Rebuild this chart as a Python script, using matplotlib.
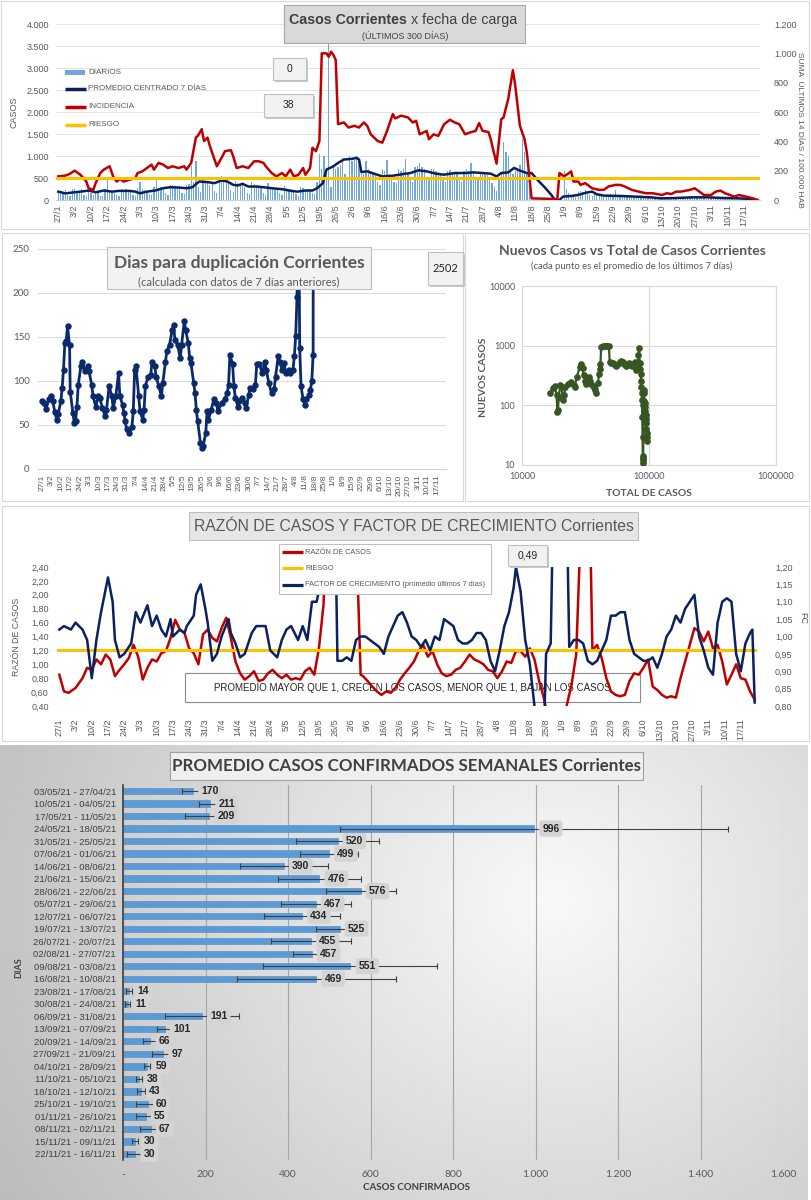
import numpy as np
import matplotlib
matplotlib.use("Agg")
import matplotlib.pyplot as plt
from matplotlib.patches import Rectangle
from matplotlib.lines import Line2D
from matplotlib.ticker import FuncFormatter, NullLocator

plt.rcParams['font.family'] = ['Liberation Sans Narrow', 'Liberation Sans', 'DejaVu Sans']
CAL = ['Lato', 'Liberation Sans', 'DejaVu Sans']
GRAY = '#595959'

# ------------------------------------------------------------------ data
fechas = ['27/1', '3/2', '10/2', '17/2', '24/2', '3/3', '10/3', '17/3', '24/3', '31/3', '7/4', '14/4',
          '21/4', '28/4', '5/5', '12/5', '19/5', '26/5', '2/6', '9/6', '16/6', '23/6', '30/6', '7/7',
          '14/7', '21/7', '28/7', '4/8', '11/8', '18/8', '25/8', '1/9', '8/9', '15/9', '22/9', '29/9',
          '6/10', '13/10', '20/10', '27/10', '3/11', '10/11', '17/11']

diarios = [
    180, 210, 150, 230, 120, 90, 260,
    240, 200, 170, 260, 110, 90, 230,
    150, 120, 210, 180, 100, 80, 260,
    460, 230, 200, 170, 110, 90, 240,
    220, 250, 180, 230, 120, 100, 280,
    400, 260, 230, 200, 140, 110, 290,
    500, 280, 300, 260, 150, 120, 330,
    330, 320, 290, 310, 160, 130, 350,
    360, 770, 420, 880, 300, 180, 450,
    420, 380, 350, 400, 200, 160, 460,
    550, 480, 450, 420, 230, 180, 430,
    380, 350, 330, 300, 170, 140, 420,
    360, 330, 300, 290, 160, 120, 380,
    300, 280, 270, 250, 150, 110, 320,
    280, 260, 230, 220, 130, 100, 300,
    270, 250, 260, 240, 160, 130, 420,
    1040, 700, 1000, 650, 3600, 300, 800,
    700, 750, 800, 950, 600, 500, 1000,
    880, 900, 1000, 900, 700, 600, 880,
    700, 650, 600, 620, 400, 350, 700,
    650, 900, 600, 550, 400, 380, 700,
    650, 700, 930, 600, 450, 400, 750,
    780, 850, 750, 700, 500, 450, 700,
    700, 650, 640, 600, 450, 400, 650,
    680, 640, 600, 620, 480, 420, 660,
    700, 650, 830, 620, 480, 450, 640,
    620, 600, 560, 520, 380, 300, 200,
    500, 600, 1320, 1100, 1000, 700, 600,
    650, 700, 800, 1380, 1100, 600, 300,
    0, 0, 0, 0, 0, 0, 0,
    0, 0, 0, 0, 0, 0, 0,
    650, 250, 150, 120, 80, 60, 180,
    200, 180, 220, 170, 120, 100, 190,
    140, 120, 110, 100, 80, 60, 130,
    110, 230, 100, 95, 70, 60, 120,
    100, 90, 85, 80, 50, 40, 90,
    70, 60, 55, 50, 30, 25, 60,
    50, 45, 40, 45, 25, 20, 55,
    60, 55, 50, 70, 40, 35, 70,
    75, 65, 60, 55, 40, 30, 70,
    70, 60, 65, 55, 35, 30, 60,
    45, 40, 35, 40, 25, 20, 40,
    35, 30, 40, 30, 20, 15, 0]

prom_pts = [(0, 190), (3, 150), (6, 170), (9.5, 190), (13, 215), (16, 176), (19.5, 215), (23, 190),
            (26, 207), (30.5, 207), (33, 190), (35, 153), (38, 190), (41.5, 215), (45, 268), (48, 290),
            (51.5, 283), (55, 268), (57.5, 290), (59, 360), (60.5, 420), (64, 406), (67, 383), (70, 444),
            (72.5, 420), (75, 345), (77, 330), (79, 368), (81.5, 306), (85, 306), (88, 290), (91.5, 268),
            (96, 245), (99, 215), (102.5, 190), (106, 215), (109, 215), (111, 268), (113.5, 383),
            (115, 690), (118, 766), (120, 843), (122.5, 920), (126, 935), (128, 958), (129, 920),
            (130, 636), (132.5, 651), (135.5, 598), (139, 536), (143.5, 552), (148, 590), (151, 613),
            (154.5, 674), (158, 651), (162, 598), (165.5, 575), (170, 613), (174.5, 613), (178, 628),
            (182, 613), (185.5, 598), (188, 536), (190, 613), (193, 628), (195.5, 728), (198, 667),
            (201, 613), (203, 613), (205.5, 460), (209, 268), (211.5, 115), (213, 0), (215, 0),
            (216.5, 77), (220, 92), (223, 115), (226.5, 169), (229, 190), (231, 130), (234, 100),
            (241, 92), (247.5, 77), (254, 61), (258.5, 38), (265, 46), (272, 61), (278.5, 61),
            (285, 46), (292, 38), (298.5, 15)]

inc_pts = [(0, 161), (3, 166), (5, 179), (7, 200), (9.5, 172), (12, 126), (13, 80), (15, 69), (16, 115),
           (18, 184), (19.5, 207), (22, 230), (23.5, 161), (25, 126), (26.5, 143), (28, 126), (30.5, 138),
           (33, 149), (34, 184), (36, 195), (38, 218), (40, 241), (41, 207), (43, 253), (45, 241),
           (47, 218), (49, 230), (51.5, 218), (54, 230), (55, 207), (57, 253), (59, 425), (60, 441),
           (61.5, 483), (62.5, 402), (64, 425), (65, 368), (67, 276), (68, 230), (70, 287), (71.5, 333),
           (74, 340), (75, 299), (76.5, 218), (79, 230), (81.5, 218), (84, 264), (86, 264), (88, 253),
           (89, 230), (91.5, 184), (93.5, 161), (96, 184), (97.5, 161), (99.5, 207), (101, 161),
           (103, 172), (105, 218), (106, 172), (108, 218), (109, 356), (110.5, 333), (112, 402),
           (113, 1000), (115, 1000), (116, 977), (117, 1011), (118, 989), (119, 954), (120, 517),
           (122.5, 529), (124.5, 494), (127, 506), (129, 494), (131, 529), (132.5, 506), (134, 448),
           (137, 402), (139, 391), (141, 471), (143.5, 586), (144.5, 556), (147, 575), (150, 563),
           (152, 529), (153.5, 540), (155, 448), (158, 471), (159, 414), (161, 448), (163, 437),
           (165.5, 517), (168, 547), (170, 529), (172, 517), (174.5, 448), (176.5, 460), (179, 471),
           (180.5, 524), (182, 471), (184.5, 464), (185.5, 414), (186.5, 345), (188, 248), (190, 550),
           (191, 563), (193, 690), (195, 885), (196, 780), (198, 506), (200, 414), (201, 322), (203, 11),
           (213, 7), (214, 0), (215, 184), (217, 161), (219, 184), (220, 195), (221, 126), (223, 126),
           (224, 103), (226, 115), (229, 80), (232, 69), (234, 69), (236, 92), (239, 103), (241, 103),
           (243, 92), (246, 69), (249, 57), (252, 46), (255, 46), (259, 34), (261, 46), (263, 41),
           (265, 57), (267, 57), (271, 69), (273, 80), (275, 57), (277, 34), (280, 34), (282, 57),
           (284, 64), (286, 46), (290, 23), (292, 34), (295, 23), (298, 11), (300, 0)]
riesgo_inc = 150

dup_pts = [(0, 77), (1.5, 75), (3, 68), (5, 79), (7, 83), (8, 77), (9.5, 65), (11, 56), (12, 62), (14, 77),
           (15, 92), (16, 113), (17, 143), (18, 145), (19, 162), (20.5, 141), (21, 88), (23, 64), (24, 52),
           (25, 54), (26, 71), (27, 96), (29, 117), (30, 122), (32, 111), (34, 117), (35, 111), (37, 96),
           (38, 83), (40, 71), (42, 83), (43, 81), (45, 69), (47, 60), (48, 67), (50, 94), (52, 83),
           (53, 69), (55, 83), (57, 109), (58, 83), (60, 73), (61, 64), (62, 54), (63, 45), (65, 41),
           (67, 48), (68, 66), (69, 113), (70, 117), (72, 83), (73, 66), (75, 56), (76, 67), (77, 94),
           (79, 105), (81, 107), (82, 122), (84, 117), (85, 105), (87, 94), (89, 83), (90, 98), (92, 122),
           (93, 134), (95, 141), (97, 158), (98, 164), (99, 147), (101, 141), (103, 126), (104, 141),
           (106, 168), (107, 158), (109, 143), (110, 126), (111, 120), (113, 98), (114, 86), (115, 67),
           (116, 54), (118, 30), (119, 24), (120, 26), (122, 41), (123, 66), (124, 56), (126, 67),
           (128, 79), (130, 75), (131, 66), (134, 75), (136, 79), (138, 86), (139, 96), (140, 130),
           (142, 119), (143, 94), (144, 81), (146, 71), (147, 77), (149, 81), (151, 75), (152, 69),
           (154, 84), (155, 92), (157, 91), (159, 96), (160, 119), (162, 119), (164, 109), (166, 122),
           (167, 113), (169, 98), (171, 86), (173, 91), (174, 105), (176, 128), (177, 122), (179, 113),
           (180, 120), (182, 109), (184, 113), (185, 109), (187, 113), (188, 128), (189, 151), (190, 196),
           (190.8, 400), (192, 137), (193, 94), (194.5, 79), (196, 73), (197, 79), (199, 84), (200, 90),
           (201, 100), (202, 130), (203, 2502)]

scatter_pts = [(16500, 158), (17500, 193), (18100, 210), (18700, 150), (19000, 78), (19200, 85),
               (19500, 140), (20000, 220), (20500, 200), (21000, 123), (21500, 150), (22000, 205),
               (23000, 230), (24000, 240), (24500, 250), (25500, 220), (26000, 205), (27000, 300),
               (28500, 440), (29300, 500), (30000, 420), (30500, 320), (31500, 260), (32000, 230),
               (33000, 270), (33700, 300), (34500, 260), (35000, 230), (36000, 210), (36700, 205),
               (37500, 180), (38500, 160), (39600, 235), (40500, 340), (41000, 400), (41500, 500),
               (42000, 960), (43500, 990), (44700, 1000), (46000, 990), (46900, 1000), (48300, 1000),
               (49000, 540), (50500, 520), (52000, 510), (53500, 480), (55000, 450), (57000, 500),
               (58700, 540), (60500, 560), (62300, 540), (64000, 500), (66000, 450), (68000, 480),
               (70000, 510), (72000, 480), (74000, 450), (75500, 500), (77000, 540), (79000, 390),
               (80500, 450), (81500, 510), (82500, 700), (83500, 900), (84500, 510), (85500, 400),
               (86000, 340), (86500, 260), (87000, 205), (87500, 160), (88000, 123), (88500, 64),
               (89000, 30), (89300, 14), (89500, 12), (89600, 11), (90000, 13), (90500, 100),
               (91000, 180), (91500, 160), (92000, 120), (92500, 110), (93000, 95), (93500, 80),
               (94000, 70), (94500, 60), (95000, 50), (95500, 40), (96000, 35), (96300, 30), (96500, 25)]

raz_pts = [(0, 0.85), (2, 0.61), (4, 0.59), (7, 0.66), (10, 0.80), (12, 0.95), (14, 0.92), (16, 1.07),
           (18, 1.00), (20, 1.14), (22, 1.07), (24, 0.83), (26, 0.92), (28, 1.00), (30, 1.09), (32, 1.28),
           (34, 1.11), (36, 0.78), (38, 0.95), (40, 1.07), (42, 1.04), (44, 1.16), (46, 1.19), (48, 1.38),
           (50, 1.64), (52, 1.50), (54, 1.45), (56, 1.23), (58, 1.16), (60, 1.00), (62, 1.43), (64, 1.50),
           (66, 1.38), (68, 1.33), (70, 1.52), (72, 1.67), (74, 1.38), (76, 1.04), (78, 0.87), (80, 0.78),
           (82, 0.83), (84, 0.90), (86, 0.76), (88, 0.78), (90, 0.87), (92, 0.92), (94, 0.85), (96, 0.80),
           (98, 0.85), (100, 0.78), (102, 0.80), (104, 0.78), (106, 0.90), (108, 0.95), (110, 0.85),
           (112, 1.23), (114, 1.86), (115, 3.0), (128, 3.0), (130, 0.85), (131, 0.83), (133, 0.76),
           (135, 0.68), (137, 0.61), (139, 0.56), (141, 0.61), (143, 0.59), (145, 0.66), (147, 0.78),
           (149, 0.87), (151, 0.95), (153, 1.04), (155, 1.19), (157, 1.28), (159, 1.11), (161, 1.19),
           (163, 1.00), (165, 0.87), (167, 0.83), (169, 0.85), (171, 0.92), (173, 0.95), (175, 1.04),
           (177, 1.14), (179, 1.07), (181, 1.04), (183, 1.00), (185, 0.92), (187, 0.90), (189, 0.80),
           (191, 0.90), (193, 1.04), (195, 1.02), (197, 1.19), (199, 1.19), (201, 1.11), (203, 1.23),
           (205, 1.07), (207, 0.76), (209, 0.52), (211, 0.2), (218, 0.2), (219, 0.42), (221, 0.71),
           (223, 1.14), (225, 3.0), (229, 3.0), (230, 1.20), (232, 1.28), (234, 1.09), (236, 0.80),
           (238, 0.61), (240, 0.56), (242, 0.54), (244, 0.56), (246, 0.76), (248, 0.87), (250, 0.85),
           (252, 0.95), (254, 1.07), (256, 0.68), (258, 0.63), (260, 0.56), (262, 0.52), (264, 0.54),
           (266, 0.52), (268, 0.80), (270, 1.04), (272, 1.28), (274, 1.52), (276, 1.47), (278, 1.33),
           (280, 1.47), (282, 1.23), (284, 1.28), (286, 1.04), (288, 0.71), (290, 0.85), (292, 1.00),
           (294, 0.80), (296, 0.78), (298, 0.61), (300, 0.49)]
riesgo_raz = 1.2

fc_pts = [(0, 1.02), (2, 1.03), (5, 1.02), (7, 1.04), (10, 1.02), (12, 0.99), (14, 0.88), (16, 0.99),
          (18, 1.07), (21, 1.17), (23, 1.10), (24, 0.99), (26, 0.94), (28, 0.95), (31, 0.98), (33, 1.07),
          (35, 1.04), (38, 1.09), (40, 1.03), (42, 1.06), (44, 1.02), (46, 1.00), (48, 1.05), (49, 1.00),
          (52, 1.02), (54, 1.01), (55, 1.03), (58, 1.06), (59, 1.12), (61, 1.15), (63, 1.08), (64, 1.04),
          (66, 0.93), (68, 0.95), (70, 1.00), (73, 1.05), (74, 1.01), (76, 0.98), (78, 0.94), (80, 0.95),
          (83, 1.01), (85, 1.03), (87, 1.03), (89, 1.03), (91, 0.96), (94, 0.94), (96, 0.99), (98, 1.02),
          (100, 1.03), (103, 0.99), (105, 1.03), (107, 0.99), (109, 1.10), (111, 1.10), (112, 1.13),
          (114, 1.16), (115, 1.35), (119, 1.35), (120, 0.93), (122, 0.93), (124, 0.94), (126, 0.93),
          (128, 0.99), (130, 1.00), (132, 1.00), (134, 0.99), (136, 0.98), (138, 0.97), (140, 0.95),
          (142, 1.00), (144, 1.03), (146, 1.06), (148, 1.07), (150, 1.04), (152, 1.00), (154, 0.99),
          (156, 0.97), (158, 0.99), (160, 0.96), (162, 1.00), (164, 0.99), (166, 1.05), (168, 1.04),
          (170, 1.03), (172, 0.99), (174, 0.98), (176, 0.98), (178, 0.99), (180, 1.01), (182, 1.01),
          (184, 0.99), (186, 0.93), (188, 0.90), (190, 0.96), (192, 1.03), (194, 1.07), (196, 1.14),
          (197, 1.20), (199, 1.13), (201, 0.99), (203, 0.92), (205, 0.80), (206, 0.70), (209, 0.70),
          (210, 0.95), (212, 0.98), (213, 1.35), (219, 1.35), (220, 0.97), (222, 0.99), (224, 0.99),
          (226, 0.98), (228, 0.93), (230, 0.92), (232, 0.93), (234, 0.96), (236, 0.99), (238, 1.06),
          (240, 1.06), (242, 1.07), (244, 1.07), (246, 0.99), (248, 0.95), (250, 0.94), (252, 0.93),
          (254, 0.93), (256, 0.94), (258, 0.91), (260, 0.95), (262, 1.00), (264, 1.02), (266, 1.06),
          (268, 1.04), (270, 1.08), (272, 1.10), (274, 1.12), (276, 1.00), (278, 0.96), (280, 0.91),
          (282, 0.89), (284, 1.04), (286, 1.10), (288, 1.11), (290, 1.10), (292, 0.95), (294, 0.90),
          (296, 0.98), (298, 1.01), (299, 1.02), (300, 0.81)]

semanas = ['03/05/21 - 27/04/21', '10/05/21 - 04/05/21', '17/05/21 - 11/05/21', '24/05/21 - 18/05/21',
           '31/05/21 - 25/05/21', '07/06/21 - 01/06/21', '14/06/21 - 08/06/21', '21/06/21 - 15/06/21',
           '28/06/21 - 22/06/21', '05/07/21 - 29/06/21', '12/07/21 - 06/07/21', '19/07/21 - 13/07/21',
           '26/07/21 - 20/07/21', '02/08/21 - 27/07/21', '09/08/21 - 03/08/21', '16/08/21 - 10/08/21',
           '23/08/21 - 17/08/21', '30/08/21 - 24/08/21', '06/09/21 - 31/08/21', '13/09/21 - 07/09/21',
           '20/09/21 - 14/09/21', '27/09/21 - 21/09/21', '04/10/21 - 28/09/21', '11/10/21 - 05/10/21',
           '18/10/21 - 12/10/21', '25/10/21 - 19/10/21', '01/11/21 - 26/10/21', '08/11/21 - 02/11/21',
           '15/11/21 - 09/11/21', '22/11/21 - 16/11/21']
prom_sem = [170, 211, 209, 996, 520, 499, 390, 476, 576, 467, 434, 525, 455, 457, 551, 469,
            14, 11, 191, 101, 66, 97, 59, 38, 43, 60, 55, 67, 30, 30]
err_sem = [28, 27, 58, 470, 100, 70, 106, 100, 85, 85, 93, 56, 97, 46, 211, 192,
           7, 5, 90, 19, 17, 27, 7, 7, 10, 28, 24, 27, 7, 21]

caja_diarios, caja_incid, caja_dup, caja_raz = '0', '38', '2502', '0,49'

# ------------------------------------------------------------------ helpers
W, H = 811, 1200
fig = plt.figure(figsize=(W / 100, H / 100), dpi=100)
fig.patch.set_facecolor('white')


def rect(x0, y0, x1, y1):
    return [x0 / W, 1 - y1 / H, (x1 - x0) / W, (y1 - y0) / H]


def fx(x):
    return x / W


def fy(y):
    return 1 - y / H


def box(x0, y0, x1, y1, fc, ec, lw=0.8, z=5, shadow=False):
    if shadow:
        fig.patches.append(Rectangle((fx(x0 + 2), fy(y1 + 2)), (x1 - x0) / W, (y1 - y0) / H,
                                     transform=fig.transFigure, fc='#c8c8c8', ec='none', zorder=z - 0.1))
    fig.patches.append(Rectangle((fx(x0), fy(y1)), (x1 - x0) / W, (y1 - y0) / H,
                                 transform=fig.transFigure, fc=fc, ec=ec, lw=lw, zorder=z))


def ftext(x, y, s, **kw):
    kw.setdefault('ha', 'center')
    kw.setdefault('va', 'center')
    kw.setdefault('zorder', 6)
    fig.text(fx(x), fy(y), s, **kw)


def fline(x0, x1, y, color, lw, z=6):
    fig.add_artist(Line2D([fx(x0), fx(x1)], [fy(y), fy(y)], transform=fig.transFigure,
                          color=color, lw=lw, zorder=z, solid_capstyle='butt'))


miles = FuncFormatter(lambda v, p: f"{v:,.0f}".replace(",", "."))
coma = FuncFormatter(lambda v, p: f"{v:.2f}".replace('.', ','))


def clean(ax):
    for s in ax.spines.values():
        s.set_visible(False)


# panel backgrounds
box(1, 1, 809, 229, 'white', '#d9d9d9', z=-5)
box(2, 233, 463, 501, 'white', '#d9d9d9', z=-5)
box(465, 233, 809, 501, 'white', '#d9d9d9', z=-5)
box(2, 506, 809, 741, 'white', '#d9d9d9', z=-5)

# ------------------------------------------------------------------ panel 1
ax1 = fig.add_axes(rect(56, 24, 760, 200))
ax1.set_facecolor('none')
days = np.arange(len(diarios))
ax1.bar(days, diarios, width=0.55, color='#6fa8dc', linewidth=0, zorder=2)
pd_, pv_ = zip(*prom_pts)
ax1.plot(pd_, pv_, color='#0b1f5c', lw=1.8, zorder=3)
ax1.set_xlim(-1, 301)
ax1.set_ylim(0, 4000)
ax1.set_yticks(np.arange(0, 4001, 500))
ax1.yaxis.set_major_formatter(miles)
ax1.set_xticks(np.arange(len(fechas)) * 7)
ax1.set_xticklabels(fechas, rotation=90)
ax1.yaxis.grid(True, color='#e3e3e3', lw=0.7)
ax1.set_axisbelow(True)
clean(ax1)
ax1.spines['bottom'].set_visible(True)
ax1.spines['bottom'].set_color('#d0d0d0')
ax1.tick_params(axis='y', length=0, labelsize=6.5, labelcolor=GRAY, pad=5)
ax1.tick_params(axis='x', length=0, labelsize=6.5, labelcolor=GRAY, pad=3)
ax1r = ax1.twinx()
ax1r.set_facecolor('none')
idd, ivv = zip(*inc_pts)
ax1r.plot(idd, ivv, color='#c00000', lw=1.8, zorder=3)
ax1r.axhline(riesgo_inc, color='#ffc000', lw=2.2, zorder=4)
ax1r.set_ylim(0, 1200)
ax1r.set_yticks(np.arange(0, 1201, 200))
ax1r.yaxis.set_major_formatter(miles)
clean(ax1r)
ax1r.tick_params(axis='y', length=0, labelsize=6.5, labelcolor=GRAY, pad=10)
ax1r.set_xlim(-1, 301)

box(284, 5, 525, 43, '#d9d9d9', '#a6a6a6', z=5)
ftext(407, 20, 'Casos Corrientes', ha='right', fontsize=10.3, fontweight='bold', color='#404040')
ftext(411, 20, 'x fecha de carga', ha='left', fontsize=10.3, color='#404040')
ftext(405, 36, '(ÚLTIMOS 300 DÍAS)', fontsize=6.5, color='#404040')
ftext(14, 112, 'CASOS', rotation=90, fontsize=6.5, color=GRAY)
ftext(799, 130, 'SUMA  ÚLTIMOS 14 DÍAS / 100.000 HAB', rotation=270, fontsize=6, color=GRAY)

leg1 = [('DIARIOS', '#6fa8dc', 'bar'), ('PROMEDIO CENTRADO 7 DÍAS', '#0b1f5c', 'line'),
        ('INCIDENCIA', '#c00000', 'line'), ('RIESGO', '#ffc000', 'line')]
for (lab, col, kind), yy in zip(leg1, [72, 89, 107, 125]):
    if kind == 'bar':
        box(65, yy - 2.5, 85, yy + 2.5, col, 'none', lw=0, z=6)
    else:
        fline(65, 86, yy, col, 2.5)
    ftext(88, yy, lab, ha='left', fontsize=5.8, color=GRAY)

box(273, 58, 306, 80, '#f2f2f2', '#bfbfbf', z=5, shadow=True)
ftext(289.5, 69, caja_diarios, fontsize=7.5, color='#262626')
box(264, 94, 313, 117, '#f2f2f2', '#bfbfbf', z=5, shadow=True)
ftext(288.5, 105.5, caja_incid, fontsize=7.5, color='#262626')

# ------------------------------------------------------------------ panel 2 left
ax2 = fig.add_axes(rect(38, 249, 446, 469))
ax2.set_facecolor('none')
dd, dv = zip(*dup_pts)
ax2.plot(dd, dv, color='#0b2a6b', lw=2, marker='o', ms=3.6, zorder=3)
ax2.set_xlim(-3, 301)
ax2.set_ylim(0, 250)
ax2.set_yticks(np.arange(0, 251, 50))
ax2.set_xticks(np.arange(len(fechas)) * 7)
ax2.set_xticklabels(fechas, rotation=90)
ax2.yaxis.grid(True, color='#d9d9d9', lw=0.7)
ax2.set_axisbelow(True)
clean(ax2)
ax2.spines['bottom'].set_visible(True)
ax2.spines['bottom'].set_color('#d0d0d0')
ax2.tick_params(axis='y', length=0, labelsize=7, labelcolor=GRAY, pad=6)
ax2.tick_params(axis='x', length=0, labelsize=6, labelcolor=GRAY, pad=4)
for t in ax2.get_yticklabels():
    t.set_fontfamily(CAL)

box(107, 247, 371, 289, '#f2f2f2', '#bfbfbf', z=5)
ftext(239, 263, 'Dias para duplicación Corrientes', fontsize=12.5, fontweight='bold',
      color=GRAY, family=CAL)
ftext(239, 282, '(calculada con datos de 7 días anteriores)', fontsize=8, color=GRAY, family=CAL)
box(428, 252, 463, 285, '#f2f2f2', '#bfbfbf', z=5, shadow=True)
ftext(445.5, 268.5, caja_dup, fontsize=8, color='#262626', family=CAL)

# ------------------------------------------------------------------ panel 2 right
ax3 = fig.add_axes(rect(522, 286, 776, 465))
sx, sy = zip(*scatter_pts)
ax3.plot(sx, sy, color='#375623', lw=1.6, marker='o', ms=3.8, zorder=3)
ax3.set_xscale('log')
ax3.set_yscale('log')
ax3.set_xlim(1e4, 1e6)
ax3.set_ylim(10, 1e4)
ax3.set_xticks([1e4, 1e5, 1e6])
ax3.set_xticklabels(['10000', '100000', '1000000'])
ax3.set_yticks([10, 100, 1000, 10000])
ax3.set_yticklabels(['10', '100', '1000', '10000'])
ax3.xaxis.set_minor_locator(NullLocator())
ax3.yaxis.set_minor_locator(NullLocator())
ax3.grid(True, color='#d9d9d9', lw=0.8)
ax3.set_axisbelow(True)
for s in ax3.spines.values():
    s.set_color('#d9d9d9')
ax3.tick_params(length=0, labelsize=6.5, labelcolor=GRAY, pad=5)
for t in ax3.get_xticklabels() + ax3.get_yticklabels():
    t.set_fontfamily(CAL)
ftext(632, 251, 'Nuevos Casos vs Total de Casos Corrientes', fontsize=10, fontweight='bold',
      color=GRAY, family=CAL)
ftext(632, 266, '(cada punto es el promedio de los últimos 7 días)', fontsize=6.8, color=GRAY, family=CAL)
ftext(484, 377, 'NUEVOS CASOS', rotation=90, fontsize=7.5, fontweight='bold', color=GRAY, family=CAL)
ftext(649, 493, 'TOTAL DE CASOS', fontsize=7.5, fontweight='bold', color=GRAY, family=CAL)

# ------------------------------------------------------------------ panel 3
box(185, 673, 640, 702, 'none', '#8c8c8c', lw=0.8, z=-0.5)
ftext(412, 688, 'PROMEDIO MAYOR QUE 1, CRECEN LOS CASOS, MENOR QUE 1, BAJAN LOS CASOS',
      fontsize=7, color='#262626', zorder=-0.4)

ax4 = fig.add_axes(rect(57, 567, 757, 706))
ax4.set_facecolor('none')
rd, rv = zip(*raz_pts)
ax4.plot(rd, rv, color='#c00000', lw=1.8, zorder=3)
ax4.axhline(riesgo_raz, color='#ffc000', lw=2.2, zorder=4)
ax4.set_xlim(-1, 301)
ax4.set_ylim(0.4, 2.4)
ax4.set_yticks(np.arange(0.4, 2.41, 0.2))
ax4.yaxis.set_major_formatter(coma)
ax4.set_xticks(np.arange(len(fechas)) * 7)
ax4.set_xticklabels(fechas, rotation=90)
clean(ax4)
ax4.tick_params(axis='y', length=0, labelsize=6.5, labelcolor=GRAY, pad=6)
ax4.tick_params(axis='x', length=0, labelsize=6.5, labelcolor=GRAY, pad=9)
ax4r = ax4.twinx()
ax4r.set_facecolor('none')
fd, fv = zip(*fc_pts)
ax4r.plot(fd, fv, color='#0b2160', lw=1.8, zorder=3)
ax4r.set_ylim(0.8, 1.2)
ax4r.set_yticks(np.arange(0.8, 1.201, 0.05))
ax4r.yaxis.set_major_formatter(coma)
clean(ax4r)
ax4r.tick_params(axis='y', length=0, labelsize=6.5, labelcolor=GRAY, pad=13)
ax4r.set_xlim(-1, 301)

box(189, 512, 638, 540, '#e7e6e6', '#bfbfbf', z=5)
ftext(413.5, 526.5, 'RAZÓN DE CASOS Y FACTOR DE CRECIMIENTO Corrientes', fontsize=11.3, color=GRAY)
ftext(17, 637, 'RAZÓN DE CASOS', rotation=90, fontsize=6.3, color=GRAY)
ftext(803, 618, 'FC', rotation=270, fontsize=6.5, color=GRAY)

box(279, 544, 491, 594, 'white', '#bfbfbf', z=5)
leg3 = [('RAZÓN DE CASOS', '#c00000'), ('RIESGO', '#ffc000'),
        ('FACTOR DE CRECIMIENTO (promedio últimos 7 días)', '#0b2160')]
for (lab, col), yy in zip(leg3, [552, 568, 585]):
    fline(282, 303, yy, col, 2.3)
    ftext(305, yy, lab, ha='left', fontsize=5.3, color=GRAY)
box(508, 545, 547, 566, '#f2f2f2', '#bfbfbf', z=5, shadow=True)
ftext(527.5, 555.5, caja_raz, fontsize=7.5, color='#262626')

# ------------------------------------------------------------------ panel 4
axbg = fig.add_axes(rect(0, 745, 808, 1200))
axbg.set_zorder(-1)
gx, gy = np.meshgrid(np.linspace(0, 1, 200), np.linspace(0, 1, 200))
dist = np.sqrt(((gx - 0.68) / 0.6) ** 2 + ((gy - 0.34) / 0.95) ** 2)
grad = np.clip(0.975 - 0.18 * dist, 0, 1)
axbg.imshow(grad, extent=[0, 1, 0, 1], origin='upper', aspect='auto', cmap='gray',
            vmin=0, vmax=1, interpolation='bilinear')
axbg.axis('off')

ax5 = fig.add_axes(rect(123, 784.75, 783, 1160.25))
ax5.set_zorder(1)
ax5.set_facecolor('none')
yy5 = np.arange(len(semanas))
ax5.barh(yy5, prom_sem, height=0.5, color='#5b9bd5', edgecolor='#4a88c7', lw=0.4, zorder=2,
         xerr=err_sem, error_kw=dict(ecolor='#404040', elinewidth=0.8, capsize=2, capthick=0.8, zorder=3))
ax5.set_ylim(len(semanas) - 0.5, -0.5)
ax5.set_xlim(0, 1600)
ax5.set_yticks(yy5)
ax5.set_yticklabels(semanas)
ax5.set_xticks(np.arange(0, 1601, 200))
ax5.xaxis.set_major_formatter(FuncFormatter(lambda v, p: '-' if v == 0 else f"{v:,.0f}".replace(",", ".")))
ax5.xaxis.grid(True, color='#a6a6a6', lw=0.8)
ax5.set_axisbelow(True)
clean(ax5)
ax5.spines['left'].set_visible(True)
ax5.spines['left'].set_color('#404040')
ax5.spines['left'].set_linewidth(1.2)
ax5.tick_params(axis='y', length=0, labelsize=6.8, labelcolor='#404040', pad=5)
ax5.tick_params(axis='x', length=0, labelsize=7.5, labelcolor=GRAY, pad=7)
for t in ax5.get_xticklabels():
    t.set_fontfamily(CAL)
for i, v in enumerate(prom_sem):
    ax5.annotate(str(v), (v, i), xytext=(6, 0), textcoords='offset points', ha='left', va='center',
                 fontsize=7.5, fontweight='bold', color='#262626', zorder=5,
                 bbox=dict(boxstyle='round,pad=0.3,rounding_size=0.35', fc='#d4d4d4', ec='none'))

box(170, 752, 643, 780, '#efefef', '#a0a0a0', z=5)
ftext(406.5, 766, 'PROMEDIO CASOS CONFIRMADOS SEMANALES Corrientes', fontsize=12.2, fontweight='bold',
      color='#404040', family=CAL)
ftext(19, 968, 'DIAS', rotation=90, fontsize=6.5, fontweight='bold', color='#404040', family=CAL)
ftext(417, 1188, 'CASOS CONFIRMADOS', fontsize=7, fontweight='bold', color='#404040', family=CAL)

fig.savefig('out.png', dpi=100)
